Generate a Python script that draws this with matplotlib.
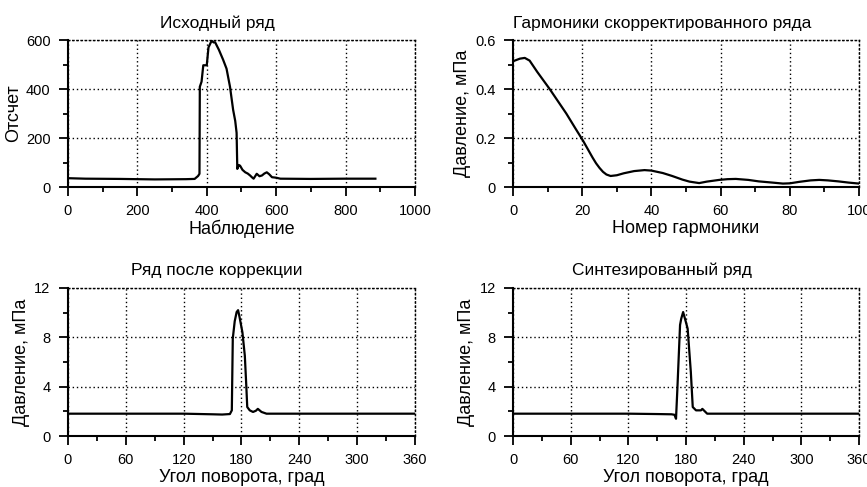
import numpy as np
import matplotlib.pyplot as plt
from matplotlib.ticker import MultipleLocator

plt.rcParams['font.family'] = ['Liberation Sans', 'DejaVu Sans']

# Исходный ряд
raw_x = [0, 50, 150, 250, 340, 365, 375, 379, 380, 385, 390, 400, 405, 410, 414, 420, 424,
         435, 447, 457, 467, 476, 482, 486, 488, 492, 496, 503, 511, 518, 525, 530, 535,
         544, 552, 559, 566, 573, 580, 588, 600, 612, 700, 800, 886]
raw_y = [36, 34, 33, 31, 32, 33, 45, 54, 409, 430, 497, 497, 570, 585, 597, 590, 591,
         560, 520, 483, 409, 315, 270, 221, 74, 90, 87, 70, 60, 55, 47, 40, 34,
         54, 44, 47, 55, 60, 52, 40, 38, 34, 33, 34, 34]

# Гармоники скорректированного ряда
harm_x = [0.5, 2, 3.4, 4.8, 7, 10.6, 13, 15.4, 18, 20.2, 22, 23, 24, 25, 26, 27, 28.2, 30,
          32, 35, 38, 40, 43.3, 46, 49, 51, 53.8, 56, 59.6, 62, 64.4, 68, 71, 75, 78, 80,
          82.7, 86, 88.5, 91, 94, 97, 100]
harm_y = [0.516, 0.524, 0.527, 0.516, 0.47, 0.40, 0.35, 0.30, 0.24, 0.19, 0.145, 0.12,
          0.097, 0.078, 0.062, 0.051, 0.045, 0.048, 0.056, 0.065, 0.069, 0.067, 0.057,
          0.045, 0.030, 0.022, 0.016, 0.022, 0.029, 0.032, 0.033, 0.029, 0.023, 0.018,
          0.014, 0.015, 0.021, 0.027, 0.029, 0.027, 0.023, 0.018, 0.014]

# Ряд после коррекции
corr_x = [0, 60, 120, 150, 160, 168, 170, 171, 173, 175, 176.5, 178, 181, 183.5, 185, 186,
          188.6, 192, 195, 197, 200.8, 206, 240, 300, 360]
corr_y = [1.81, 1.81, 1.81, 1.76, 1.74, 1.78, 2.08, 7.9, 9.3, 10.05, 10.2, 9.65, 8.4, 6.5,
          4.1, 2.35, 2.08, 1.95, 2.05, 2.2, 1.95, 1.81, 1.81, 1.81, 1.81]

# Синтезированный ряд
syn_x = [0, 60, 120, 150, 165, 168, 169.6, 171, 173.8, 175, 177, 180, 181.7, 185, 187,
         190.4, 195.6, 197, 202, 240, 300, 360]
syn_y = [1.81, 1.81, 1.81, 1.78, 1.76, 1.72, 1.4, 3.8, 9.0, 9.5, 10.05, 9.2, 8.7, 5.2,
         2.35, 2.08, 2.08, 2.2, 1.81, 1.81, 1.81, 1.81]


def style_axes(ax, xmax, xmajor, ymax, ymajor, title, xlabel, ylabel):
    ax.set_xlim(0, xmax)
    ax.set_ylim(0, ymax)
    ax.xaxis.set_major_locator(MultipleLocator(xmajor))
    ax.xaxis.set_minor_locator(MultipleLocator(xmajor / 2))
    ax.yaxis.set_major_locator(MultipleLocator(ymajor))
    ax.yaxis.set_minor_locator(MultipleLocator(ymajor / 2))
    ax.grid(True, which='major', color='black', linestyle=(0, (1, 2)), linewidth=1.0)
    for side in ['left', 'bottom']:
        ax.spines[side].set_linewidth(1.5)
    for side in ['top', 'right']:
        ax.spines[side].set_linestyle((0, (1, 2)))
        ax.spines[side].set_linewidth(1.0)
    ax.tick_params(which='major', direction='out', length=6.5, width=1.3,
                   labelsize=10.5, pad=6)
    ax.tick_params(which='minor', direction='out', length=3.5, width=1.3)
    ax.set_title(title, fontsize=12.5, x=0.43, pad=9)
    ax.set_xlabel(xlabel, fontsize=13, labelpad=1)
    ax.set_ylabel(ylabel, fontsize=13, labelpad=3)


fig = plt.figure(figsize=(8.67, 4.87), dpi=100)
ax1 = fig.add_axes([0.0784, 0.616, 0.4002, 0.3018])
ax2 = fig.add_axes([0.5917, 0.616, 0.3991, 0.3018])
ax3 = fig.add_axes([0.0784, 0.1047, 0.4002, 0.304])
ax4 = fig.add_axes([0.5917, 0.1047, 0.3991, 0.304])

ax1.plot(raw_x, raw_y, color='black', linewidth=1.6)
style_axes(ax1, 1000, 200, 600, 200, 'Исходный ряд', 'Наблюдение', 'Отсчет')

ax2.plot(harm_x, harm_y, color='black', linewidth=1.6)
style_axes(ax2, 100, 20, 0.6, 0.2, 'Гармоники скорректированного ряда',
           'Номер гармоники', 'Давление, мПа')
ax2.set_yticks([0, 0.2, 0.4, 0.6], ['0', '0.2', '0.4', '0.6'])

ax3.plot(corr_x, corr_y, color='black', linewidth=1.6)
style_axes(ax3, 360, 60, 12, 4, 'Ряд после коррекции', 'Угол поворота, град',
           'Давление, мПа')

ax4.plot(syn_x, syn_y, color='black', linewidth=1.6)
style_axes(ax4, 360, 60, 12, 4, 'Синтезированный ряд', 'Угол поворота, град',
           'Давление, мПа')

fig.savefig('out.png', dpi=100)
